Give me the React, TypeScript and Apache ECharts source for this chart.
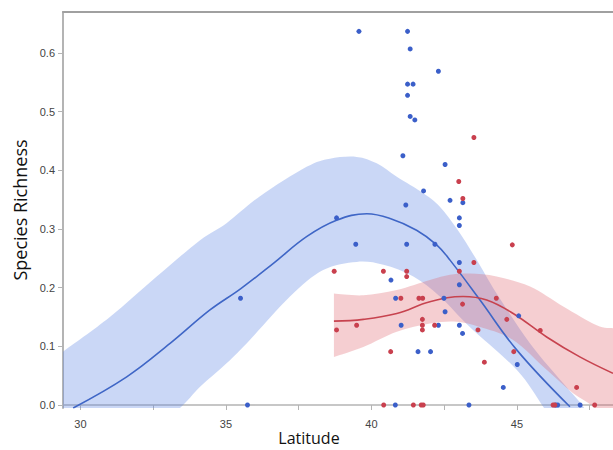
import React, { useEffect, useRef } from "react";
import * as echarts from "echarts";

const xLabelValues = [30, 35, 40, 45];
const xTickValues = [30, 32.5, 35, 37.5, 40, 42.5, 45, 47.5];
const yTickValues = [0, 0.1, 0.2, 0.3, 0.4, 0.5, 0.6];

const bluePoints: number[][] = [
  [39.57, 0.637], [41.24, 0.637], [41.33, 0.607], [42.3, 0.569], [41.24, 0.547], [41.43, 0.547],
  [41.24, 0.528], [41.33, 0.492], [41.49, 0.486], [41.08, 0.425], [42.53, 0.41], [41.79, 0.365],
  [42.7, 0.349], [43.14, 0.345], [41.18, 0.341], [38.8, 0.319], [43.02, 0.319], [43.02, 0.306],
  [39.46, 0.274], [41.21, 0.274], [42.18, 0.274], [43.02, 0.243], [40.67, 0.213], [43.02, 0.205],
  [35.5, 0.182], [40.83, 0.182], [42.49, 0.182], [42.53, 0.159], [45.06, 0.152], [41.02, 0.136],
  [42.3, 0.136], [43.02, 0.136], [43.13, 0.122], [41.6, 0.091], [42.03, 0.091], [45.01, 0.069],
  [44.53, 0.03], [35.74, 0], [40.82, 0], [43.35, 0], [46.33, 0], [46.4, 0], [47.17, 0],
];

const redPoints: number[][] = [
  [43.52, 0.456], [43.0, 0.381], [43.14, 0.352], [44.84, 0.273], [43.52, 0.243], [38.72, 0.228],
  [40.41, 0.228], [41.21, 0.228], [41.21, 0.219], [43.02, 0.228], [41.01, 0.182], [41.63, 0.182],
  [41.76, 0.182], [44.29, 0.182], [43.13, 0.172], [44.65, 0.146], [39.49, 0.136], [41.75, 0.146],
  [41.75, 0.136], [42.17, 0.136], [38.8, 0.128], [41.75, 0.128], [43.66, 0.128], [45.8, 0.127],
  [40.66, 0.091], [44.89, 0.091], [43.88, 0.073], [47.05, 0.03], [40.42, 0], [41.44, 0],
  [41.71, 0], [41.78, 0], [46.24, 0], [46.3, 0], [47.67, 0],
];

const blueFit: number[][] = [
  [29.75, -0.005], [31.59, 0.048], [33.08, 0.105], [34.45, 0.162], [35.5, 0.198], [36.63, 0.2415],
  [37.77, 0.287], [38.8, 0.315], [39.84, 0.326], [40.64, 0.318], [41.55, 0.298], [42.24, 0.273],
  [42.7, 0.247], [43.73, 0.179], [44.99, 0.094], [46.82, -0.003],
];

const blueUpper: number[][] = [
  [29.4, 0.091], [31.01, 0.15], [32.62, 0.219], [34.11, 0.281], [35.02, 0.31], [36.17, 0.356],
  [37.77, 0.406], [38.57, 0.42], [39.49, 0.423], [40.18, 0.412], [40.87, 0.389],
  [41.78, 0.361], [42.35, 0.338], [42.97, 0.298], [43.62, 0.247], [44.3, 0.19], [45.45, 0.105],
  [46.59, 0.037], [47.28, -0.003], [47.5, -0.03],
];

const blueLower: number[][] = [
  [29.4, -0.2], [32.39, -0.043], [33.42, -0.005], [34.11, 0.031], [35.02, 0.071], [35.82, 0.111],
  [37.2, 0.185], [38.34, 0.23], [39.49, 0.244], [40.41, 0.239], [41.44, 0.219], [42.35, 0.185],
  [43.38, 0.133], [44.99, 0.06], [45.9, -0.003], [46.5, -0.05],
];

const redFit: number[][] = [
  [38.71, 0.143], [39.72, 0.146], [40.87, 0.156], [42.01, 0.176], [43.15, 0.185], [43.96, 0.179],
  [44.87, 0.156], [46.02, 0.116], [47.16, 0.082], [48.3, 0.054],
];

const redUpper: number[][] = [
  [38.71, 0.19], [39.72, 0.187], [40.87, 0.196], [42.01, 0.213], [42.7, 0.222], [43.38, 0.224],
  [44.3, 0.219], [45.45, 0.202], [46.59, 0.168], [47.74, 0.136], [48.3, 0.131],
];

const redLower: number[][] = [
  [38.71, 0.082], [39.72, 0.099], [40.87, 0.125], [42.01, 0.139], [42.93, 0.142], [43.73, 0.133],
  [44.87, 0.111], [46.02, 0.06], [46.93, 0.02], [47.62, -0.003], [48.3, -0.043],
];

function smoothSeg(pts: number[][], start: boolean): string {
  let d = (start ? "M" : "L") + pts[0][0] + "," + pts[0][1];
  for (let i = 0; i < pts.length - 1; i++) {
    const p0 = pts[i - 1] || pts[i];
    const p1 = pts[i];
    const p2 = pts[i + 1];
    const p3 = pts[i + 2] || p2;
    const c1x = p1[0] + (p2[0] - p0[0]) / 6;
    const c1y = p1[1] + (p2[1] - p0[1]) / 6;
    const c2x = p2[0] - (p3[0] - p1[0]) / 6;
    const c2y = p2[1] - (p3[1] - p1[1]) / 6;
    d += ` C${c1x},${c1y} ${c2x},${c2y} ${p2[0]},${p2[1]}`;
  }
  return d;
}

function bandSeries(upper: number[][], lower: number[][], fill: string) {
  return {
    type: "custom",
    coordinateSystem: "cartesian2d",
    silent: true,
    z: 1,
    data: [upper[0]],
    renderItem: (params: any, api: any) => {
      const up = upper.map((p) => api.coord(p));
      const lo = lower.slice().reverse().map((p) => api.coord(p));
      const d = smoothSeg(up, true) + " " + smoothSeg(lo, false) + " Z";
      const cs = params.coordSys;
      return {
        type: "path",
        shape: { pathData: d },
        style: { fill, stroke: "none" },
        clipPath: { type: "rect", shape: { x: cs.x, y: cs.y, width: cs.width, height: cs.height } },
      };
    },
  };
}

export default function App() {
  const ref = useRef<HTMLDivElement>(null);
  useEffect(() => {
    if (!ref.current) return;
    const chart = echarts.init(ref.current, null, { renderer: "svg" });
    const axisColor = "#b4b4b4";
    chart.setOption({
      animation: false,
      backgroundColor: "#ffffff",
      grid: { left: 63, right: 0, top: 12, bottom: 42, containLabel: false, outerBoundsMode: "none" },
      xAxis: [
        {
          type: "value",
          min: 29.4,
          max: 48.3,
          name: "Latitude",
          nameLocation: "middle",
          nameGap: 22,
          nameMoveOverlap: false,
          nameTextStyle: {
            fontFamily: "Open Sans",
            fontSize: 16,
            lineHeight: 16,
            color: "#111",
            padding: [0, 58, 0, 0],
          },
          axisLine: { show: true, lineStyle: { color: axisColor, width: 1.5 } },
          axisTick: { show: true, length: 5, customValues: xTickValues, lineStyle: { color: axisColor } },
          axisLabel: {
            customValues: xLabelValues,
            color: "#444",
            fontSize: 11,
            fontFamily: "Liberation Sans",
            margin: 10,
            hideOverlap: false,
          },
          splitLine: { show: false },
        },
        {
          type: "value",
          position: "top",
          min: 29.4,
          max: 48.3,
          axisLine: { show: true, lineStyle: { color: "#a0a0a0", width: 2 } },
          axisTick: { show: false },
          axisLabel: { show: false },
          splitLine: { show: false },
        },
      ],
      yAxis: {
        type: "value",
        min: -0.0051,
        max: 0.67,
        name: "Species Richness",
        nameLocation: "middle",
        nameGap: 33,
        nameTextStyle: { fontFamily: "Open Sans", fontSize: 18, color: "#111" },
        axisLine: { show: true, lineStyle: { color: axisColor, width: 2 } },
        axisTick: { show: true, length: 5, customValues: yTickValues, lineStyle: { color: axisColor } },
        axisLabel: {
          customValues: yTickValues,
          color: "#444",
          fontSize: 11,
          fontFamily: "Liberation Sans",
          margin: 8,
          formatter: (v: number) => v.toFixed(1),
        },
        splitLine: { show: false },
      },
      series: [
        bandSeries(blueUpper, blueLower, "rgba(95,135,228,0.33)"),
        bandSeries(redUpper, redLower, "rgba(222,92,104,0.3)"),
        {
          type: "line",
          data: blueFit,
          smooth: 0.4,
          symbol: "none",
          z: 3,
          lineStyle: { color: "#3f66c6", width: 1.6 },
          silent: true,
        },
        {
          type: "line",
          data: redFit,
          smooth: 0.4,
          symbol: "none",
          z: 3,
          lineStyle: { color: "#c7434f", width: 1.6 },
          silent: true,
        },
        {
          type: "scatter",
          data: bluePoints,
          symbol: "circle",
          symbolSize: 5,
          z: 4,
          clip: false,
          itemStyle: { color: "#3b5fc9", opacity: 1 },
        },
        {
          type: "scatter",
          data: redPoints,
          symbol: "circle",
          symbolSize: 5,
          z: 4,
          clip: false,
          itemStyle: { color: "#c9404e", opacity: 1 },
        },
      ],
    });
    return () => chart.dispose();
  }, []);
  return <div ref={ref} style={{ width: 613, height: 450, position: "absolute", left: 0, top: 0 }} />;
}
